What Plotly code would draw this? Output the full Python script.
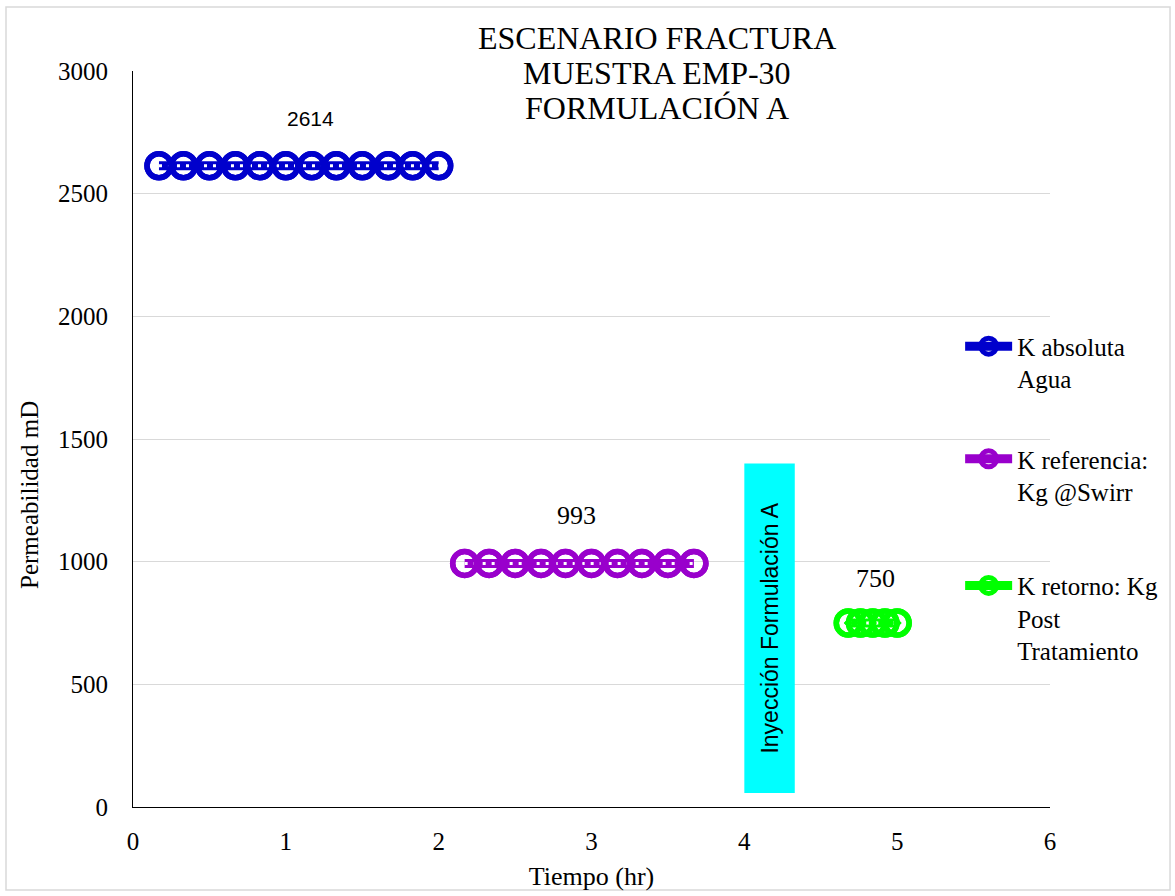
import plotly.graph_objects as go

# ---- data ----
t_abs = [0.17, 0.33, 0.50, 0.67, 0.83, 1.00, 1.17, 1.33, 1.50, 1.67, 1.83, 2.00]
k_abs = [2614] * 12
t_ref = [2.17, 2.33, 2.50, 2.67, 2.83, 3.00, 3.17, 3.33, 3.50, 3.67]
k_ref = [993] * 10
t_ret = [4.68, 4.76, 4.84, 4.92, 5.00]
k_ret = [750] * 5

series_names = ["K absoluta<br>Agua", "K referencia:<br>Kg @Swirr", "K retorno: Kg<br>Post<br>Tratamiento"]
colors = ["#0000CC", "#9900CC", "#00FF00"]
label_x = [1.16, 2.90, 4.86]

inj_x = [4.0, 4.33]
inj_y = [57, 1400]
inj_text = "Inyección Formulación A"

title_lines = ["ESCENARIO FRACTURA", "MUESTRA EMP-30", "FORMULACIÓN A"]
x_ticks = [0, 1, 2, 3, 4, 5, 6]
y_ticks = [0, 500, 1000, 1500, 2000, 2500, 3000]

SERIF = "Liberation Serif, Times New Roman, serif"
SANS = "Liberation Sans, Arial, sans-serif"

fig = go.Figure()

data = [(t_abs, k_abs), (t_ref, k_ref), (t_ret, k_ret)]
legends = ["legend", "legend2", "legend3"]
symbols = ["circle-open", "circle-open", "circle-open-dot"]

for i, (xs, ys) in enumerate(data):
    fig.add_trace(go.Scatter(
        x=xs, y=ys, mode="lines+markers", name=series_names[i],
        line=dict(color=colors[i], width=9),
        marker=dict(symbol=symbols[i], size=24, color=colors[i],
                    line=dict(color=colors[i], width=5.5)),
        legend=legends[i], showlegend=True,
    ))
    fig.add_trace(go.Scatter(
        x=xs, y=ys, mode="lines",
        line=dict(color="white", width=3, dash="3px,6px"),
        showlegend=False, hoverinfo="skip",
    ))
    fig.add_trace(go.Scatter(
        x=xs, y=ys, mode="markers",
        marker=dict(symbol=symbols[i], size=24, color=colors[i],
                    line=dict(color=colors[i], width=5.5)),
        showlegend=False, hoverinfo="skip",
    ))

# value labels
label_fonts = [dict(family=SANS, size=21, color="black"),
               dict(family=SERIF, size=26, color="black"),
               dict(family=SERIF, size=26, color="black")]
label_shift = [47, 48, 45]
for i, (xs, ys) in enumerate(data):
    fig.add_annotation(x=label_x[i], y=ys[0], text=str(ys[0]), showarrow=False,
                       yshift=label_shift[i], font=label_fonts[i])

# injection box
fig.add_shape(type="rect", x0=inj_x[0], x1=inj_x[1], y0=inj_y[0], y1=inj_y[1],
              fillcolor="#00FFFF", line=dict(width=0), layer="above")
fig.add_annotation(x=4.17, y=(inj_y[0] + inj_y[1]) / 2,
                   text=inj_text, textangle=-90, showarrow=False,
                   font=dict(family=SANS, size=23, color="black"))

# title (three lines, tight spacing)
for line_text, yy in zip(title_lines, [1.0448, 0.9973, 0.9497]):
    fig.add_annotation(xref="paper", yref="paper", x=0.571, y=yy, xanchor="center", yanchor="middle",
                       text=line_text, showarrow=False,
                       font=dict(family=SERIF, size=32, color="black"))

# y axis title
fig.add_annotation(xref="paper", yref="paper", x=-0.1123, y=0.424, xanchor="center", yanchor="middle",
                   text="Permeabilidad mD", textangle=-90, showarrow=False,
                   font=dict(family=SERIF, size=25, color="black"))

# outer border
fig.add_shape(type="rect", xref="paper", yref="paper", x0=-0.1385, x1=1.1309, y0=-0.1128, y1=1.0870,
              line=dict(color="#D9D9D9", width=1.5), fillcolor="rgba(0,0,0,0)")

leg_common = dict(font=dict(family=SERIF, size=25, color="black"), bgcolor="rgba(0,0,0,0)",
                  xanchor="left", yanchor="top", valign="top", itemwidth=47)

fig.update_layout(
    width=1175, height=896,
    margin=dict(l=133, r=125, t=71, b=89, autoexpand=False),
    plot_bgcolor="white", paper_bgcolor="white",
    xaxis=dict(range=[0, 6], tickvals=x_ticks, showgrid=False, zeroline=False,
               showline=True, linecolor="black", linewidth=1, ticks="",
               ticklabelstandoff=12,
               tickfont=dict(family=SERIF, size=25, color="black"),
               title=dict(text="Tiempo (hr)", font=dict(family=SERIF, size=26, color="black"), standoff=12)),
    yaxis=dict(range=[0, 3000], tickvals=y_ticks, showgrid=True, gridcolor="#D9D9D9", gridwidth=1,
               zeroline=False, showline=True, linecolor="black", linewidth=1, ticks="",
               ticklabelstandoff=19,
               tickfont=dict(family=SERIF, size=25, color="black")),
    legend=dict(x=0.902, y=0.657, **leg_common),
    legend2=dict(x=0.902, y=0.504, **leg_common),
    legend3=dict(x=0.902, y=0.332, **leg_common),
)

fig.write_html("out.html")
